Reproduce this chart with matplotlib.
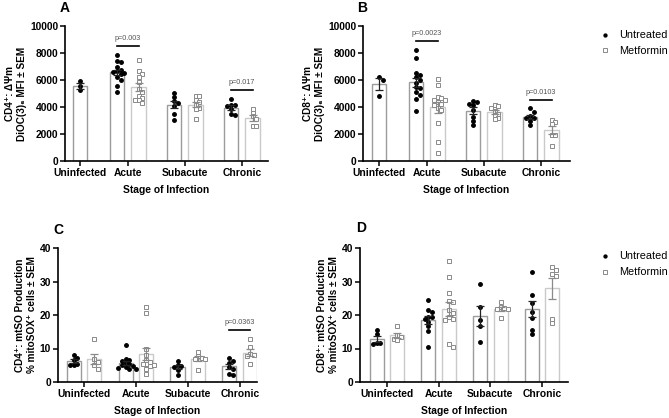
import numpy as np
import matplotlib.pyplot as plt
from matplotlib.lines import Line2D

plt.rcParams['font.family'] = ['Liberation Sans', 'DejaVu Sans']

stages = ['Uninfected', 'Acute', 'Subacute', 'Chronic']

# A: CD4+ DiOC(3)6 MFI
a_untreated = [[5900, 5530, 5230],
               [7880, 7400, 7330, 6960, 6770, 6670, 6590, 6520, 6420, 6220, 5975, 5530, 5110],
               [5040, 4740, 4440, 4320, 4050, 3500, 3010],
               [4620, 4170, 4120, 4050, 3880, 3460, 3430]]
a_metformin = [[],
               [7460, 6670, 6470, 6220, 5850, 5360, 5110, 4790, 4690, 4540, 4490, 4300],
               [4810, 4790, 4490, 4370, 4120, 3950, 3830, 3110],
               [3880, 3580, 3310, 3140, 2620, 2570]]
a_pvals = [(1, 'p=0.003'), (3, 'p=0.017')]

# B: CD8+ DiOC(3)6 MFI
b_untreated = [[6220, 6020, 4840],
               [8250, 7600, 6500, 6400, 6200, 6000, 5800, 5500, 5400, 5100, 4900, 4600, 3700],
               [4440, 4370, 4250, 4170, 3750, 3260, 2960, 2640],
               [3900, 3650, 3300, 3200, 3150, 3000, 2700]]
b_metformin = [[],
               [6100, 5600, 4740, 4690, 4540, 4490, 4370, 4250, 4120, 3950, 3800, 2810, 1410, 620],
               [4150, 4050, 3900, 3700, 3500, 3400, 3200, 3100],
               [3060, 2890, 2720, 1950, 1900, 1110]]
b_pvals = [(1, 'p=0.0023'), (3, 'p=0.0103')]

# C: CD4+ % mitoSOX+
c_untreated = [[8.2, 7.3, 6.5, 5.5, 5.2, 5.0],
               [11.0, 7.0, 6.5, 6.3, 5.7, 5.3, 5.0, 4.7, 4.5, 4.3, 4.0, 4.0],
               [6.3, 5.0, 4.8, 4.5, 3.5, 2.2],
               [7.2, 6.4, 5.7, 4.6, 4.0, 2.5, 2.2]]
c_metformin = [[12.8, 6.8, 6.0, 5.0, 4.0],
               [22.5, 20.5, 10.0, 8.0, 6.7, 6.0, 5.5, 5.3, 5.0, 4.7, 4.0, 2.5],
               [9.0, 7.8, 7.3, 7.0, 6.8, 3.5],
               [12.8, 10.5, 8.5, 8.0, 7.7, 5.3]]
c_pvals = [(3, 'p=0.0363')]

# D: CD8+ % mitoSOX+
d_untreated = [[15.5, 14.3, 11.5, 11.5, 11.3],
               [24.5, 21.5, 20.8, 19.5, 19.3, 18.8, 18.0, 16.8, 15.2, 10.3],
               [29.3, 22.4, 18.5, 16.7, 11.8],
               [32.8, 26.0, 23.5, 20.8, 19.0, 15.5, 14.3]]
d_metformin = [[16.8, 13.9, 13.3, 12.9, 12.6],
               [36.0, 31.3, 26.5, 24.2, 23.8, 21.5, 20.5, 19.5, 18.8, 18.5, 11.3, 10.3],
               [24.0, 22.5, 22.0, 21.8, 21.7, 19.0],
               [34.2, 33.3, 32.3, 31.5, 18.7, 17.5]]
d_pvals = []

U_EDGE, M_EDGE = '#9c9c9c', '#cacaca'
U_ERR, M_ERR = '#222222', '#8a8a8a'


def swarm(vals, thr, step):
    vals = np.asarray(vals, float)
    offs = np.zeros(len(vals))
    placed = []
    for i in np.argsort(-vals):
        for k in [0, 1, -1, 2, -2, 3, -3, 4, -4]:
            dx = k * step
            if all(abs(px - dx) > step * 0.9 or abs(py - vals[i]) > thr for px, py in placed):
                break
        placed.append((dx, vals[i]))
        offs[i] = dx
    return offs


def draw(ax, untreated, metformin, xs, ymax, yticks, ylabel, pvals, px_per_unit, width=0.26, off=0.19):
    ax_h = ax.get_position().height * 418
    thr = ymax / ax_h * 3.4
    step = 3.6 / px_per_unit
    centers = {}
    for g, x in enumerate(xs):
        groups = [(untreated[g], 'u'), (metformin[g], 'm')]
        groups = [gr for gr in groups if len(gr[0])]
        pos = [x] if len(groups) == 1 else [x - off, x + off]
        centers[g] = pos
        for (vals, kind), p in zip(groups, pos):
            v = np.asarray(vals, float)
            m = v.mean()
            sem = v.std(ddof=1) / np.sqrt(len(v))
            edge = U_EDGE if kind == 'u' else M_EDGE
            ax.bar(p, m, width, facecolor='white', edgecolor=edge, linewidth=1.0, zorder=1)
            dx = swarm(v, thr, step)
            if kind == 'u':
                ax.plot(p + dx, v, 'o', ms=2.5, color='black', mec='black', zorder=2)
            else:
                ax.plot(p + dx, v, 's', ms=2.7, mfc='white', mec='#8a8a8a', mew=0.7, zorder=2)
            ax.errorbar(p, m, yerr=sem, fmt='none', ecolor=U_ERR if kind == 'u' else M_ERR,
                        elinewidth=0.9, capsize=2.6, capthick=0.9, zorder=3)
    for g, txt in pvals:
        x0, x1 = centers[g]
        top = max(max(untreated[g]), max(metformin[g]))
        ly = top + 0.065 * ymax
        ax.plot([x0, x1], [ly, ly], color='black', lw=1.2, zorder=4)
        ax.text((x0 + x1) / 2, ly + 0.03 * ymax, txt, ha='center', va='bottom',
                fontsize=5.2, color='#555555')
    ax.set_ylim(0, ymax)
    ax.set_yticks(yticks)
    ax.set_xticks(xs)
    ax.set_xticklabels(stages)
    for s in ['top', 'right']:
        ax.spines[s].set_visible(False)
    for s in ['left', 'bottom']:
        ax.spines[s].set_linewidth(1.2)
    ax.tick_params(axis='both', width=1.1, length=3.5, labelsize=7.4, pad=1.5)
    for lab in ax.get_xticklabels() + ax.get_yticklabels():
        lab.set_fontweight('bold')
    ax.set_xlabel('Stage of Infection', fontsize=7.4, fontweight='bold', labelpad=5)
    ax.set_ylabel(ylabel, fontsize=7.2, fontweight='bold', labelpad=2, linespacing=1.25)


fig = plt.figure(figsize=(6.69, 4.18), dpi=100)

axA = fig.add_axes([65 / 669, 1 - 161 / 418, 203 / 669, 135 / 418])
axB = fig.add_axes([363 / 669, 1 - 161 / 418, 207 / 669, 135 / 418])
axC = fig.add_axes([58 / 669, 1 - 382 / 418, 199 / 669, 134 / 418])
axD = fig.add_axes([360 / 669, 1 - 382 / 418, 208 / 669, 134 / 418])

xs_ab = [0, 0.84, 1.84, 2.84]
xs_cd = [0, 1, 2, 3]

draw(axA, a_untreated, a_metformin, xs_ab, 10000, range(0, 10001, 2000),
     'CD4⁺: ΔΨm\nDiOC(3)₆ MFI ± SEM', a_pvals, 57)
axA.set_xlim(-0.263, 3.30)
draw(axB, b_untreated, b_metformin, xs_ab, 10000, range(0, 10001, 2000),
     'CD8⁺: ΔΨm\nDiOC(3)₆ MFI ± SEM', b_pvals, 57)
axB.set_xlim(-0.28, 3.35)
draw(axC, c_untreated, c_metformin, xs_cd, 40, range(0, 41, 10),
     'CD4⁺: mtSO Production\n% mitoSOX⁺ cells ± SEM', c_pvals, 52, width=0.27, off=0.2)
axC.set_xlim(-0.5, 3.33)
draw(axD, d_untreated, d_metformin, xs_cd, 40, range(0, 41, 10),
     'CD8⁺: mtSO Production\n% mitoSOX⁺ cells ± SEM', d_pvals, 52, width=0.27, off=0.2)
axD.set_xlim(-0.52, 3.5)

handles = [Line2D([], [], ls='none', marker='o', ms=2.1, color='black'),
           Line2D([], [], ls='none', marker='s', ms=2.5, mfc='white', mec='#8a8a8a', mew=0.7)]
for ytop in [26, 247]:
    fig.legend(handles, ['Untreated', 'Metformin'], loc='upper left',
               bbox_to_anchor=(595 / 669, 1 - ytop / 418), frameon=False,
               fontsize=7.8, handletextpad=0.8, labelspacing=0.55, handlelength=1.0,
               borderaxespad=0)

for txt, x, y in [('A', 60, 8), ('B', 357, 8), ('C', 53, 230), ('D', 356, 228)]:
    fig.text(x / 669, 1 - y / 418, txt, fontsize=10, fontweight='bold', va='center')

fig.savefig('out.png', dpi=100)
